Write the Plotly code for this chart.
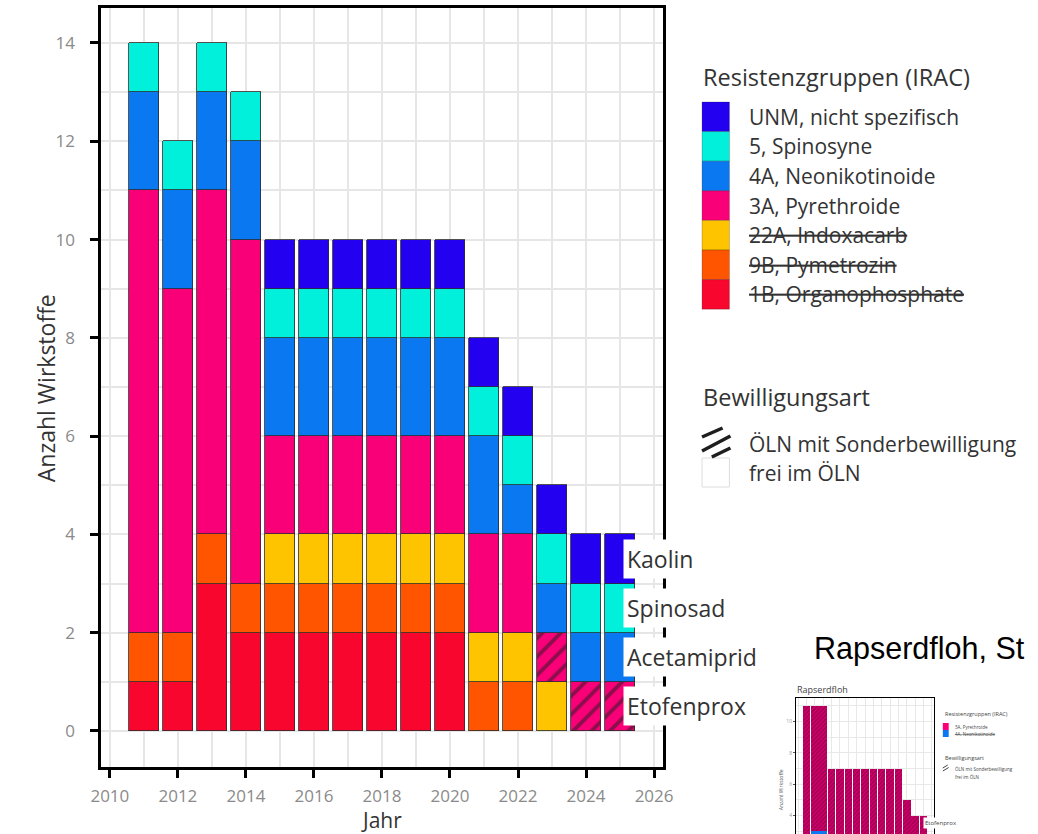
import plotly.graph_objects as go

W, H = 1038, 834
FONT = "Open Sans"

# ---------------- data (main chart) ----------------
years = list(range(2011, 2026))
groups = ["1B, Organophosphate", "9B, Pymetrozin", "22A, Indoxacarb",
          "3A, Pyrethroide", "4A, Neonikotinoide", "5, Spinosyne",
          "UNM, nicht spezifisch"]
colors = ["#F8062E", "#FF5500", "#FFC400", "#FA0078", "#0A78F0", "#00F0DC", "#2400F0"]
withdrawn = [True, True, True, False, False, False, False]

n_1b = [1, 1, 3, 2, 2, 2, 2, 2, 2, 2, None, None, None, None, None]
n_9b = [1, 1, 1, 1, 1, 1, 1, 1, 1, 1, 1, 1, None, None, None]
n_22a = [None, None, None, None, 1, 1, 1, 1, 1, 1, 1, 1, 1, None, None]
n_3a = [9, 7, 7, 7, 2, 2, 2, 2, 2, 2, 2, 2, 1, 1, 1]
n_4a = [2, 2, 2, 2, 2, 2, 2, 2, 2, 2, 2, 1, 1, 1, 1]
n_5 = [1, 1, 1, 1, 1, 1, 1, 1, 1, 1, 1, 1, 1, 1, 1]
n_unm = [None, None, None, None, 1, 1, 1, 1, 1, 1, 1, 1, 1, 1, 1]
series = [n_1b, n_9b, n_22a, n_3a, n_4a, n_5, n_unm]
# special permit (hatched) flags for 3A
sonder_3a = [False] * 12 + [True] * 3

labels_2025 = {"3A, Pyrethroide": "Etofenprox", "4A, Neonikotinoide": "Acetamiprid",
               "5, Spinosyne": "Spinosad", "UNM, nicht spezifisch": "Kaolin"}

permit_labels = ["ÖLN mit Sonderbewilligung", "frei im ÖLN"]

# ---------------- data (thumbnail "Rapserdfloh") ----------------
rf_groups = ["3A, Pyrethroide", "4A, Neonikotinoide"]
rf_4a = [None, 3, 3, None, None, None, None, None, None, None, None, None, None, None, None]
rf_3a = [11, 8, 8, 7, 7, 7, 7, 7, 7, 7, 7, 7, 5, 4, 4]


def px(x):
    return x / W


def py(y):
    return 1 - y / H


fig = go.Figure()

# main stacked bars
for g, c, vals in zip(groups, colors, series):
    marker = dict(color=c, line=dict(color="#2a2a2a", width=0.8))
    if g.startswith("3A"):
        marker["pattern"] = dict(shape=["/" if s else "" for s in sonder_3a],
                                 bgcolor=c, fgcolor="#1e1e1e", size=13, solidity=0.3)
    fig.add_trace(go.Bar(x=years, y=vals, width=0.9, marker=marker, name=g,
                         showlegend=False, xaxis="x", yaxis="y", hoverinfo="skip"))

# thumbnail bars
fig.add_trace(go.Bar(x=years, y=rf_4a, width=0.9, marker=dict(color="#0A78F0", line=dict(width=0)),
                     showlegend=False, xaxis="x2", yaxis="y2", hoverinfo="skip"))
fig.add_trace(go.Bar(x=years, y=rf_3a, width=0.9,
                     marker=dict(color="#D0006A", line=dict(width=0),
                                 pattern=dict(shape="/", bgcolor="#D0006A", fgcolor="#6a0035",
                                              size=3, solidity=0.45)),
                     showlegend=False, xaxis="x2", yaxis="y2", hoverinfo="skip"))

GRID = "#E6E6E6"
TICKC = "#8a8a8a"

fig.update_layout(
    width=W, height=H, autosize=False,
    margin=dict(l=0, r=0, t=0, b=0),
    paper_bgcolor="white", plot_bgcolor="white",
    barmode="stack", bargap=0,
    font=dict(family=FONT, color="#333333"),
    xaxis=dict(domain=[px(92), px(666)], range=[2009.741, 2026.259],
               tick0=2010, dtick=2, ticks="outside", ticklen=8, tickwidth=2.5, tickcolor="black",
               showline=True, linewidth=2.5, linecolor="black", mirror=True,
               showgrid=True, gridcolor=GRID, gridwidth=1.8, zeroline=False,
               minor=dict(dtick=1, showgrid=True, gridcolor=GRID, gridwidth=1.8),
               tickfont=dict(size=17, color=TICKC, family=FONT), ticklabelstandoff=4,
               anchor="y"),
    yaxis=dict(domain=[py(767), py(8)], range=[-0.733, 14.712],
               tick0=0, dtick=2, ticks="outside", ticklen=8, tickwidth=2.5, tickcolor="black",
               showline=True, linewidth=2.5, linecolor="black", mirror=True,
               showgrid=True, gridcolor=GRID, gridwidth=1.8, zeroline=False,
               minor=dict(dtick=1, showgrid=True, gridcolor=GRID, gridwidth=1.8),
               tickfont=dict(size=17, color=TICKC, family=FONT), ticklabelstandoff=12,
               anchor="x"),
    xaxis2=dict(domain=[px(802), px(943)], range=[2009.741, 2026.259],
                tick0=2010, dtick=2, showticklabels=False, ticks="",
                showline=True, linewidth=1, linecolor="black", mirror=False, side="top",
                showgrid=True, gridcolor="#E8E8E8", gridwidth=0.6, zeroline=False,
                minor=dict(dtick=1, showgrid=True, gridcolor="#E8E8E8", gridwidth=0.6),
                anchor="y2"),
    yaxis2=dict(domain=[0, py(698)], range=[2.82, 11.5],
                tick0=0, dtick=2, ticks="outside", ticklen=2, tickwidth=0.6, tickcolor="#555",
                showline=True, linewidth=1, linecolor="black", mirror=True,
                showgrid=True, gridcolor="#E8E8E8", gridwidth=0.6, zeroline=False,
                minor=dict(dtick=1, showgrid=True, gridcolor="#E8E8E8", gridwidth=0.6),
                tickfont=dict(size=5, color="#999"), anchor="x2"),
)

ann = []
shapes = []

# labels on 2025 bars (positions derived from stack)
idx = years.index(2025)
cum = 0
for g, vals in zip(groups, series):
    v = vals[idx]
    if v:
        if g in labels_2025:
            ann.append(dict(x=2025.08, y=cum + v / 2, xref="x", yref="y", text=labels_2025[g],
                            showarrow=False, xanchor="left", yanchor="middle",
                            font=dict(size=23, color="#333333", family=FONT),
                            bgcolor="white", borderpad=3))
        cum += v

# axis titles
ann.append(dict(x=px(36), y=py(388), xref="paper", yref="paper", text="Anzahl Wirkstoffe",
                textangle=-90, showarrow=False, xanchor="center", yanchor="middle",
                font=dict(size=23, color="#333333", family=FONT)))
ann.append(dict(x=px(379), y=py(820), xref="paper", yref="paper", text="Jahr",
                showarrow=False, xanchor="center", yanchor="middle",
                font=dict(size=21, color="#333333", family=FONT)))

# legend 1: Resistenzgruppen
ann.append(dict(x=px(705), y=py(77), xref="paper", yref="paper", text="Resistenzgruppen (IRAC)",
                showarrow=False, xanchor="left", yanchor="middle",
                font=dict(size=23.5, color="#333333", family=FONT)))
sw_top, sw_h = 102, 29.6
order = list(range(len(groups)))[::-1]
for k, gi in enumerate(order):
    y0 = sw_top + k * sw_h
    shapes.append(dict(type="rect", xref="paper", yref="paper", x0=px(706), x1=px(734),
                       y0=py(y0 + sw_h), y1=py(y0), fillcolor=colors[gi],
                       line=dict(color="rgba(0,0,0,0.35)", width=0.6), layer="above"))
    txt = groups[gi]
    if withdrawn[gi]:
        txt = '<span style="text-decoration:line-through">' + txt + '</span>'
    ann.append(dict(x=px(752), y=py(y0 + sw_h / 2), xref="paper", yref="paper", text=txt,
                    showarrow=False, xanchor="left", yanchor="middle",
                    font=dict(size=21, color="#333333", family=FONT)))

# legend 2: Bewilligungsart
ann.append(dict(x=px(705), y=py(397), xref="paper", yref="paper", text="Bewilligungsart",
                showarrow=False, xanchor="left", yanchor="middle",
                font=dict(size=23.5, color="#333333", family=FONT)))
shapes.append(dict(type="rect", xref="paper", yref="paper", x0=px(706), x1=px(734),
                   y0=py(487), y1=py(458), fillcolor="white",
                   line=dict(color="#dddddd", width=1)))
for (xa, ya, xb, yb) in [(706, 437, 727, 428), (706, 451, 735, 436), (716, 457, 735, 448)]:
    shapes.append(dict(type="line", xref="paper", yref="paper", x0=px(xa), y0=py(ya),
                       x1=px(xb), y1=py(yb), line=dict(color="#1e1e1e", width=3.5)))
for lab, yy in zip(permit_labels, [444, 473]):
    ann.append(dict(x=px(752), y=py(yy), xref="paper", yref="paper", text=lab,
                    showarrow=False, xanchor="left", yanchor="middle",
                    font=dict(size=21, color="#333333", family=FONT)))

# slide heading + thumbnail
ann.append(dict(x=px(818), y=py(648), xref="paper", yref="paper", text="Rapserdfloh, St",
                showarrow=False, xanchor="left", yanchor="middle",
                font=dict(size=30.5, color="black", family="Liberation Sans")))
ann.append(dict(x=px(801), y=py(689), xref="paper", yref="paper", text="Rapserdfloh",
                showarrow=False, xanchor="left", yanchor="middle",
                font=dict(size=9, color="#444", family=FONT)))
ann.append(dict(x=px(787), y=py(790), xref="paper", yref="paper", text="Anzahl Wirkstoffe",
                textangle=-90, showarrow=False, xanchor="center", yanchor="middle",
                font=dict(size=5, color="#555", family=FONT)))
ann.append(dict(x=2025, y=3.5, xref="x2", yref="y2", text="Etofenprox",
                showarrow=False, xanchor="left", yanchor="middle",
                font=dict(size=6, color="#444", family=FONT), bgcolor="white", borderpad=1))
ann.append(dict(x=px(952), y=py(714), xref="paper", yref="paper", text="Resistenzgruppen (IRAC)",
                showarrow=False, xanchor="left", yanchor="middle",
                font=dict(size=5.5, color="#444", family=FONT)))
for k, (g, c) in enumerate(zip(rf_groups, ["#FA0078", "#0A78F0"])):
    y0 = 723 + k * 7
    shapes.append(dict(type="rect", xref="paper", yref="paper", x0=px(952), x1=px(958),
                       y0=py(y0 + 7), y1=py(y0), fillcolor=c, line=dict(width=0)))
    txt = g if k == 0 else '<span style="text-decoration:line-through">' + g + '</span>'
    ann.append(dict(x=px(962), y=py(y0 + 3.5), xref="paper", yref="paper", text=txt,
                    showarrow=False, xanchor="left", yanchor="middle",
                    font=dict(size=4.5, color="#444", family=FONT)))
ann.append(dict(x=px(952), y=py(758), xref="paper", yref="paper", text="Bewilligungsart",
                showarrow=False, xanchor="left", yanchor="middle",
                font=dict(size=5.5, color="#444", family=FONT)))
for (xa, ya, xb, yb) in [(952, 768, 957, 765), (952, 771, 958, 767.5)]:
    shapes.append(dict(type="line", xref="paper", yref="paper", x0=px(xa), y0=py(ya),
                       x1=px(xb), y1=py(yb), line=dict(color="#444", width=1)))
for lab, yy in zip(permit_labels, [769, 777]):
    ann.append(dict(x=px(962), y=py(yy), xref="paper", yref="paper", text=lab,
                    showarrow=False, xanchor="left", yanchor="middle",
                    font=dict(size=4.5, color="#444", family=FONT)))

fig.update_layout(annotations=ann, shapes=shapes)

fig.write_html("out.html", config={"displayModeBar": False},
               post_script="document.body.style.margin='0';")
